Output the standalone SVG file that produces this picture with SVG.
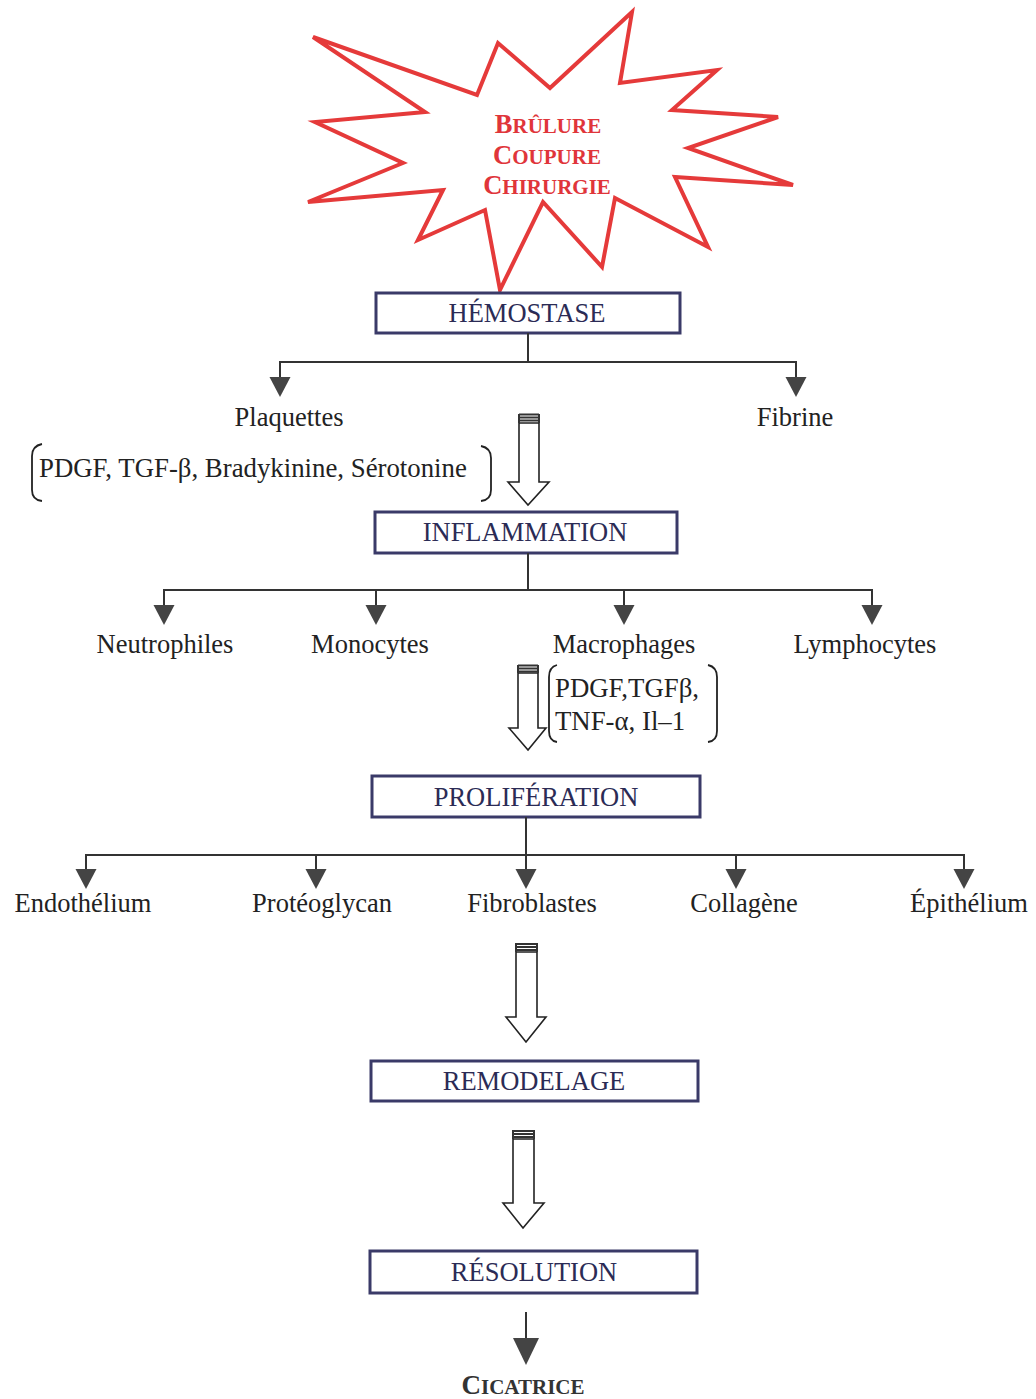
<svg xmlns="http://www.w3.org/2000/svg" width="1036" height="1399" viewBox="0 0 1036 1399">
<style>
.box{fill:#fff;stroke:#3a3a68;stroke-width:3}
.bt{font-family:"Liberation Serif",serif;font-size:26.5px;fill:#2b2b55;text-anchor:middle}
.lb{font-family:"Liberation Serif",serif;font-size:26.5px;fill:#222;text-anchor:middle}
.lt{font-family:"Liberation Serif",serif;font-size:26.8px;fill:#222}
.ln{fill:none;stroke:#333;stroke-width:2}
.ah{fill:#444}
.ho{fill:#fff;stroke:#222;stroke-width:1.6;stroke-linejoin:miter}
.br{fill:none;stroke:#222;stroke-width:1.8}
.st{font-family:"Liberation Serif",serif;font-weight:bold;fill:#e0353a;text-anchor:middle}
</style>
<defs>
<path id="tri" d="M-10.5,0 L10.5,0 L0,20 Z"/>
</defs>
<rect width="1036" height="1399" fill="#fff"/>

<g id="star">
<polygon points="313,37 477,95 498,43 550,88 632,12 620,83 717,70 672,110 778,117 688,148 793,185 675,177 708,247 615,198 602,267 543,202 500,290 485,210 418,240 443,190 308,202 403,163 315,122 425,112" fill="#fff" stroke="#e53a3a" stroke-width="4" stroke-linejoin="miter"/>
<text class="st" x="548" y="133"><tspan font-size="26.5">B</tspan><tspan font-size="21">RÛLURE</tspan></text>
<text class="st" x="547" y="164"><tspan font-size="26.5">C</tspan><tspan font-size="21">OUPURE</tspan></text>
<text class="st" x="547" y="194"><tspan font-size="26.5">C</tspan><tspan font-size="21">HIRURGIE</tspan></text>
</g>

<g id="hemostase">
<rect class="box" x="376" y="293" width="304" height="40"/>
<text class="bt" x="527" y="322">HÉMOSTASE</text>
</g>
<g id="plaquettes"><text class="lb" x="289" y="426">Plaquettes</text></g>
<g id="fibrine"><text class="lb" x="795" y="426">Fibrine</text></g>
<g id="mediateurs1">
<path class="br" d="M42,444 Q32,446 32,456 L32,490 Q32,500 42,501"/>
<path class="br" d="M481,446 Q491,448 491,458 L491,490 Q491,500 481,501"/>
<text class="lt" x="39" y="477">PDGF, TGF-β, Bradykinine, Sérotonine</text>
</g>

<g id="inflammation">
<rect class="box" x="375" y="512" width="302" height="41"/>
<text class="bt" x="525" y="541">INFLAMMATION</text>
</g>
<g id="neutrophiles"><text class="lb" x="165" y="653">Neutrophiles</text></g>
<g id="monocytes"><text class="lb" x="370" y="653">Monocytes</text></g>
<g id="macrophages"><text class="lb" x="624" y="653">Macrophages</text></g>
<g id="lymphocytes"><text class="lb" x="865" y="653">Lymphocytes</text></g>
<g id="mediateurs2">
<path class="br" d="M557,665 Q549,667 549,677 L549,731 Q549,741 557,742"/>
<path class="br" d="M708,665 Q717,667 717,677 L717,731 Q717,741 708,742"/>
<text class="lt" x="555" y="697">PDGF,TGFβ,</text>
<text class="lt" x="555" y="730">TNF-α, Il–1</text>
</g>

<g id="proliferation">
<rect class="box" x="372" y="776" width="328" height="41"/>
<text class="bt" x="536" y="806">PROLIFÉRATION</text>
</g>
<g id="endothelium"><text class="lb" x="83" y="912">Endothélium</text></g>
<g id="proteoglycan"><text class="lb" x="322" y="912">Protéoglycan</text></g>
<g id="fibroblastes"><text class="lb" x="532" y="912">Fibroblastes</text></g>
<g id="collagene"><text class="lb" x="744" y="912">Collagène</text></g>
<g id="epithelium"><text class="lb" x="969" y="912">Épithélium</text></g>

<g id="remodelage">
<rect class="box" x="371" y="1061" width="327" height="40"/>
<text class="bt" x="534" y="1090">REMODELAGE</text>
</g>
<g id="resolution">
<rect class="box" x="370" y="1251" width="327" height="42"/>
<text class="bt" x="534" y="1281">RÉSOLUTION</text>
</g>
<g id="cicatrice">
<text x="523" y="1394" font-family="Liberation Serif,serif" font-weight="bold" fill="#333" text-anchor="middle"><tspan font-size="27">C</tspan><tspan font-size="21">ICATRICE</tspan></text>
</g>

<g id="connectors">
<path class="ln" d="M528,333 V362 M280,362 H796 M280,361 V378 M796,361 V378"/>
<use href="#tri" class="ah" x="280" y="377"/>
<use href="#tri" class="ah" x="796" y="377"/>
<path class="ln" d="M528,553 V590 M164,590 H872 M164,589 V606 M376,589 V606 M624,589 V606 M872,589 V606"/>
<use href="#tri" class="ah" x="164" y="605"/>
<use href="#tri" class="ah" x="376" y="605"/>
<use href="#tri" class="ah" x="624" y="605"/>
<use href="#tri" class="ah" x="872" y="605"/>
<path class="ln" d="M526,817 V870 M86,855 H964 M86,854 V870 M316,854 V870 M736,854 V870 M964,854 V870"/>
<use href="#tri" class="ah" x="86" y="869"/>
<use href="#tri" class="ah" x="316" y="869"/>
<use href="#tri" class="ah" x="526" y="869"/>
<use href="#tri" class="ah" x="736" y="869"/>
<use href="#tri" class="ah" x="964" y="869"/>
<path class="ho" d="M519,423 H539 V482 H549 L528,505 L508,482 H519 Z"/>
<path class="ln" stroke-width="1.8" d="M519,414.5 H539 M519,417.5 H539 M519,420.5 H539 M519,414 V423 M539,414 V423"/>
<path class="ho" d="M518,673 H538 V728 H546 L528,750 L509,728 H518 Z"/>
<path class="ln" stroke-width="1.8" d="M518,665.5 H538 M518,668.5 H538 M518,671.5 H538 M518,665 V673 M538,665 V673"/>
<path class="ho" d="M516,952 H537 V1017 H546 L526,1042 L506,1017 H516 Z"/>
<path class="ln" stroke-width="1.8" d="M516,944 H537 M516,947 H537 M516,950 H537 M516,943 V952 M537,943 V952"/>
<path class="ho" d="M513,1139 H534 V1203 H544 L523,1228 L503,1203 H513 Z"/>
<path class="ln" stroke-width="1.8" d="M513,1131 H534 M513,1134 H534 M513,1137 H534 M513,1130 V1139 M534,1130 V1139"/>
<path class="ln" d="M526,1312 V1340"/>
<path class="ah" d="M513,1338 L539,1338 L526,1365 Z"/>
</g>
</svg>
